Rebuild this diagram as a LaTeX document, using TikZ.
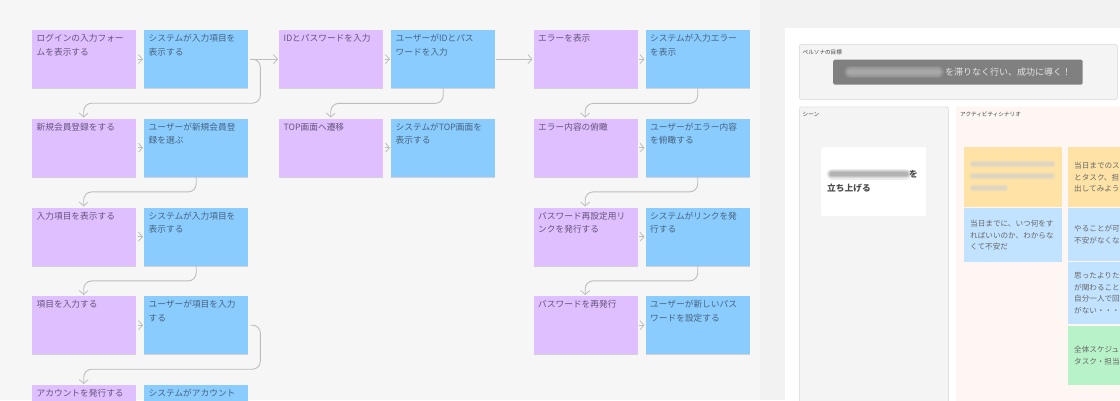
\documentclass[tikz,border=0pt]{standalone}
\usepackage{fontspec}
\setmainfont{Noto Sans CJK JP}
\usetikzlibrary{arrows.meta,shadows}
\definecolor{pagebg}{HTML}{F6F6F6}
\definecolor{rightbg}{HTML}{F2F2F2}
\definecolor{panelgray}{HTML}{F4F4F4}
\definecolor{panelline}{HTML}{E2E2E2}
\definecolor{purplefill}{HTML}{DFBFFF}
\definecolor{bluefill}{HTML}{8BCCFF}
\definecolor{purpletext}{HTML}{65547A}
\definecolor{bluetext}{HTML}{46637F}
\definecolor{connector}{HTML}{BDBDBD}
\definecolor{warmfill}{HTML}{FDF6F2}
\definecolor{yellowcard}{HTML}{FFE3A6}
\definecolor{bluecard}{HTML}{C2E3FF}
\definecolor{greencard}{HTML}{B8F2C8}
\newcommand{\stickytext}[1]{\parbox[t][50pt][t]{95pt}{#1}}
\newcommand{\blurbar}[5]{%
  \foreach \lw/\op in {#4/.16,#4*.8/.2,#4*.6/.25,#4*.4/.3}{%
    \draw[line width=\lw pt,line cap=round,draw=#5,opacity=\op] (#1,#3) -- (#2,#3);}}
\tikzset{
  x=1pt,y=-1pt,
  sticky/.style={anchor=north west,minimum width=101pt,minimum height=58pt,inner xsep=4.5pt,inner ysep=3.5pt,
    font=\fontsize{8.7}{13.6}\selectfont,align=left,
    drop shadow={shadow xshift=0pt,shadow yshift=-1pt,opacity=.14,fill=black}},
  userstep/.style={sticky,fill=purplefill,text=purpletext},
  sysstep/.style={sticky,fill=bluefill,text=bluetext},
  conn/.style={draw=connector,line width=.9pt,-{Straight Barb[length=4pt,width=9pt,line width=.8pt]}},
  elbow/.style={conn,rounded corners=8pt},
  panel/.style={anchor=north west,draw=panelline,line width=.8pt,rounded corners=2pt,fill=panelgray},
  tinylabel/.style={anchor=west,inner sep=0pt,font=\fontsize{5.6}{7}\selectfont,text=black!75},
  card/.style={anchor=north west,inner xsep=6pt,inner ysep=0pt,align=left,text width=86pt,
    font=\fontsize{7.6}{11.7}\selectfont,text=black!60},
}
\begin{document}
\begin{tikzpicture}
\useasboundingbox (0,0) rectangle (1120,400);
\clip (0,0) rectangle (1120,400);
\fill[pagebg] (0,0) rectangle (1120,400);
\fill[rightbg] (760,0) rectangle (1120,400);
\fill[white] (785,28) rectangle (1120,400);

% column 1
\node[userstep] (p1) at (32,30) {\stickytext{ログインの入力フォー\\ムを表示する}};
\node[sysstep] (s1) at (144,30) {\stickytext{システムが入力項目を\\表示する}};
\node[userstep] (p2) at (32,118.5) {\stickytext{新規会員登録をする}};
\node[sysstep] (s2) at (144,118.5) {\stickytext{ユーザーが新規会員登\\録を選ぶ}};
\node[userstep] (p3) at (32,207.5) {\stickytext{入力項目を表示する}};
\node[sysstep] (s3) at (144,207.5) {\stickytext{システムが入力項目を\\表示する}};
\node[userstep] (p4) at (32,296) {\stickytext{項目を入力する}};
\node[sysstep] (s4) at (144,296) {\stickytext{ユーザーが項目を入力\\する}};
\node[userstep] (p5) at (32,385) {\stickytext{アカウントを発行する}};
\node[sysstep] (s5) at (144,385) {\stickytext{システムがアカウント}};
% column 2
\node[userstep] (p6) at (279,30) {\stickytext{IDとパスワードを入力}};
\node[sysstep] (s6) at (391,30) {\stickytext{ユーザーがIDとパス\\ワードを入力}};
\node[userstep] (p7) at (279,118.5) {\stickytext{TOP画面へ遷移}};
\node[sysstep] (s7) at (391,118.5) {\stickytext{システムがTOP画面を\\表示する}};
% column 3
\node[userstep] (p8) at (533.5,30) {\stickytext{エラーを表示}};
\node[sysstep] (s8) at (645.5,30) {\stickytext{システムが入力エラー\\を表示}};
\node[userstep] (p9) at (533.5,118.5) {\stickytext{エラー内容の俯瞰}};
\node[sysstep] (s9) at (645.5,118.5) {\stickytext{ユーザーがエラー内容\\を俯瞰する}};
\node[userstep] (p10) at (533.5,207.5) {\stickytext{パスワード再設定用リ\\ンクを発行する}};
\node[sysstep] (s10) at (645.5,207.5) {\stickytext{システムがリンクを発\\行する}};
\node[userstep] (p11) at (533.5,296) {\stickytext{パスワードを再発行}};
\node[sysstep] (s11) at (645.5,296) {\stickytext{ユーザーが新しいパス\\ワードを設定する}};

% short connectors
\foreach \a/\b in {p1/s1,p2/s2,p3/s3,p4/s4,p6/s6,p7/s7,p8/s8,p9/s9,p10/s10,p11/s11}
  \draw[conn] ([xshift=1.5pt]\a.east) -- ([xshift=-1pt]\b.west);
% long connectors
\draw[conn] ([xshift=2pt]s1.east) -- ([xshift=-1pt]p6.west);
\draw[conn] ([xshift=1pt]s6.east) -- ([xshift=-1pt]p8.west);
% elbows from the bottom
\foreach \a/\b in {s2/p3,s3/p4,s6/p7,s8/p9,s9/p10,s10/p11}
  \draw[elbow] (\a.south) -- ++(0,15) -| ([yshift=1pt,xshift=-.5pt]\b.north);
% elbows from the right
\draw[elbow] ([xshift=2pt]s1.east) -- ++(10,0) -- ++(0,44) -| ([yshift=1pt,xshift=-.5pt]p2.north);
\draw[elbow] ([xshift=2pt]s4.east) -- ++(10,0) -- ++(0,44) -| ([yshift=1pt,xshift=-.5pt]p5.north);

% right panels
\node[panel,minimum width=318pt,minimum height=55pt] (goalpanel) at (799,44) {};
\node[tinylabel] (goallabel) at (802.5,52) {ペルソナの目標};
\node[anchor=north west,fill=black!50,rounded corners=2pt,minimum width=249.5pt,minimum height=25pt] (goalbar) at (833,59.5) {};
\blurbar{850}{938}{72}{12}{black!25}
\node[anchor=west,inner sep=0pt,font=\fontsize{9}{11}\selectfont,text=white!90!black] (goaltext) at (945,72) {を滞りなく行い、成功に導く！};

\node[panel,minimum width=149pt,minimum height=310pt] (scenepanel) at (799,106.5) {};
\node[tinylabel] (scenelabel) at (802.5,114.5) {シーン};
\node[anchor=north west,fill=white,rounded corners=2pt,minimum width=105pt,minimum height=69pt] (scenecard) at (821,147) {};
\blurbar{832}{906}{174}{11}{black!45}
\node[anchor=west,inner sep=0pt,font=\fontsize{8.7}{14}\selectfont\bfseries,text=black!70] (scenea) at (909,174) {を};
\node[anchor=west,inner sep=0pt,font=\fontsize{8.7}{14}\selectfont\bfseries,text=black!70] (sceneb) at (827,188) {立ち上げる};

\node[panel,draw=warmfill,fill=warmfill,minimum width=180pt,minimum height=310pt] (activitypanel) at (956,106.5) {};
\node[tinylabel] (activitylabel) at (960,114.5) {アクティビティシナリオ};

\node[card,fill=yellowcard,minimum width=98pt,minimum height=60pt] (y1) at (964,147) {};
\blurbar{973}{1052}{164}{8}{black!18}
\blurbar{973}{1052}{176}{8}{black!18}
\blurbar{973}{1005}{188}{8}{black!18}
\node[card,fill=bluecard,minimum width=98pt,minimum height=54pt] (b1) at (964,208) {当日までに、いつ何をす\\ればいいのか、わからな\\くて不安だ};
\node[card,fill=yellowcard,minimum width=98pt,minimum height=60pt] (y2) at (1068,147) {当日までのス\\とタスク、担\\出してみよう};
\node[card,fill=bluecard,minimum width=98pt,minimum height=53pt] (b2) at (1068,208) {やることが可\\不安がなくな};
\node[card,fill=bluecard,minimum width=98pt,minimum height=62pt] (b3) at (1068,262) {思ったよりた\\が関わること\\自分一人で回\\がない・・・};
\node[card,fill=greencard,minimum width=98pt,minimum height=59.5pt] (g1) at (1068,325.5) {全体スケジュ\\タスク・担当};
\end{tikzpicture}
\end{document}
